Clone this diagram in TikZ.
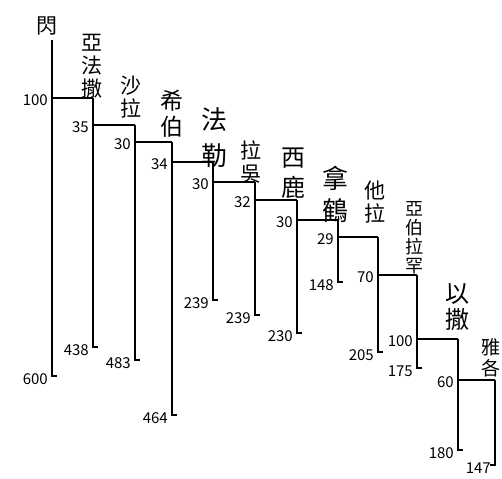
\documentclass[tikz,border=0pt]{standalone}
\usepackage{fontspec}
\setmainfont{Noto Sans CJK TC}

\begin{document}
\begin{tikzpicture}[x=1pt,y=-1pt,
        gen/.style={line width=2.4pt},
        age/.style={anchor=east,inner sep=1pt,font=\fontsize{15}{15}\selectfont},
        who/.style={anchor=south,align=center,inner sep=0pt,font=\fontsize{21}{23}\selectfont}]
        \useasboundingbox (0,0) rectangle (502,478);
        % one line per generation: top, step to the son, end of life
        \foreach \id/\x/\t/\s/\b/\age/\life in {shem/52/40/98/376/100/600, arph/93/98/125/347/35/438,
                salah/135/125/142/360/30/483, eber/172/142/162/415/34/464, peleg/213/162/182/300/30/239,
                reu/255/182/200/315/32/239, serug/297/200/220/333/30/230, nahor/338/220/237/282/29/148,
                terah/378/237/275/352/70/205, abram/417/275/339/368/100/175, isaac/458/339/380/450/60/180}{
                \coordinate (\id-t) at (\x,\t);
                \coordinate (\id-s) at (\x,\s);
                \coordinate (\id-b) at (\x,\b);
                \draw[gen] (\id-t) -- (\id-b) -- ++(5,0);
                \node[age] (\id-age) at (\x-3,\s+2) {\age};
                \node[age] (\id-life) at (\x-3,\b+3) {\life};
        }
        \coordinate (jacob-t) at (495,380);
        \coordinate (jacob-b) at (495,465);
        \draw[gen] (jacob-t) -- (jacob-b) -- ++(-5,0);
        \node[age] (jacob-life) at (492,468) {147};
        \foreach \a/\b in {shem/arph, arph/salah, salah/eber, eber/peleg, peleg/reu, reu/serug,
                serug/nahor, nahor/terah, terah/abram, abram/isaac, isaac/jacob}
                \draw[gen] (\a-s) -- (\b-t);
        % names
        \node[who] (shem-name) at (47,35) {閃};
        \node[who] (arph-name) at (92,99) {亞\\法\\撒};
        \node[who] (salah-name) at (131,118) {沙\\拉};
        \node[who,font=\fontsize{23}{26}\selectfont] (eber-name) at (172,138) {希\\伯};
        \node[who,font=\fontsize{26}{36}\selectfont] (peleg-name) at (214,168) {法\\勒};
        \node[who] (reu-name) at (251,184) {拉\\吳};
        \node[who,font=\fontsize{24}{30}\selectfont] (serug-name) at (293,199) {西\\鹿};
        \node[who,font=\fontsize{26}{32}\selectfont] (nahor-name) at (335,223) {拿\\鶴};
        \node[who] (terah-name) at (375,223) {他\\拉};
        \node[who,font=\fontsize{18}{19}\selectfont] (abram-name) at (414,274) {亞\\伯\\拉\\罕};
        \node[who,font=\fontsize{24}{26}\selectfont] (isaac-name) at (457,331) {以\\撒};
        \node[who,font=\fontsize{19}{21}\selectfont] (jacob-name) at (491,377) {雅\\各};
\end{tikzpicture}
\end{document}
